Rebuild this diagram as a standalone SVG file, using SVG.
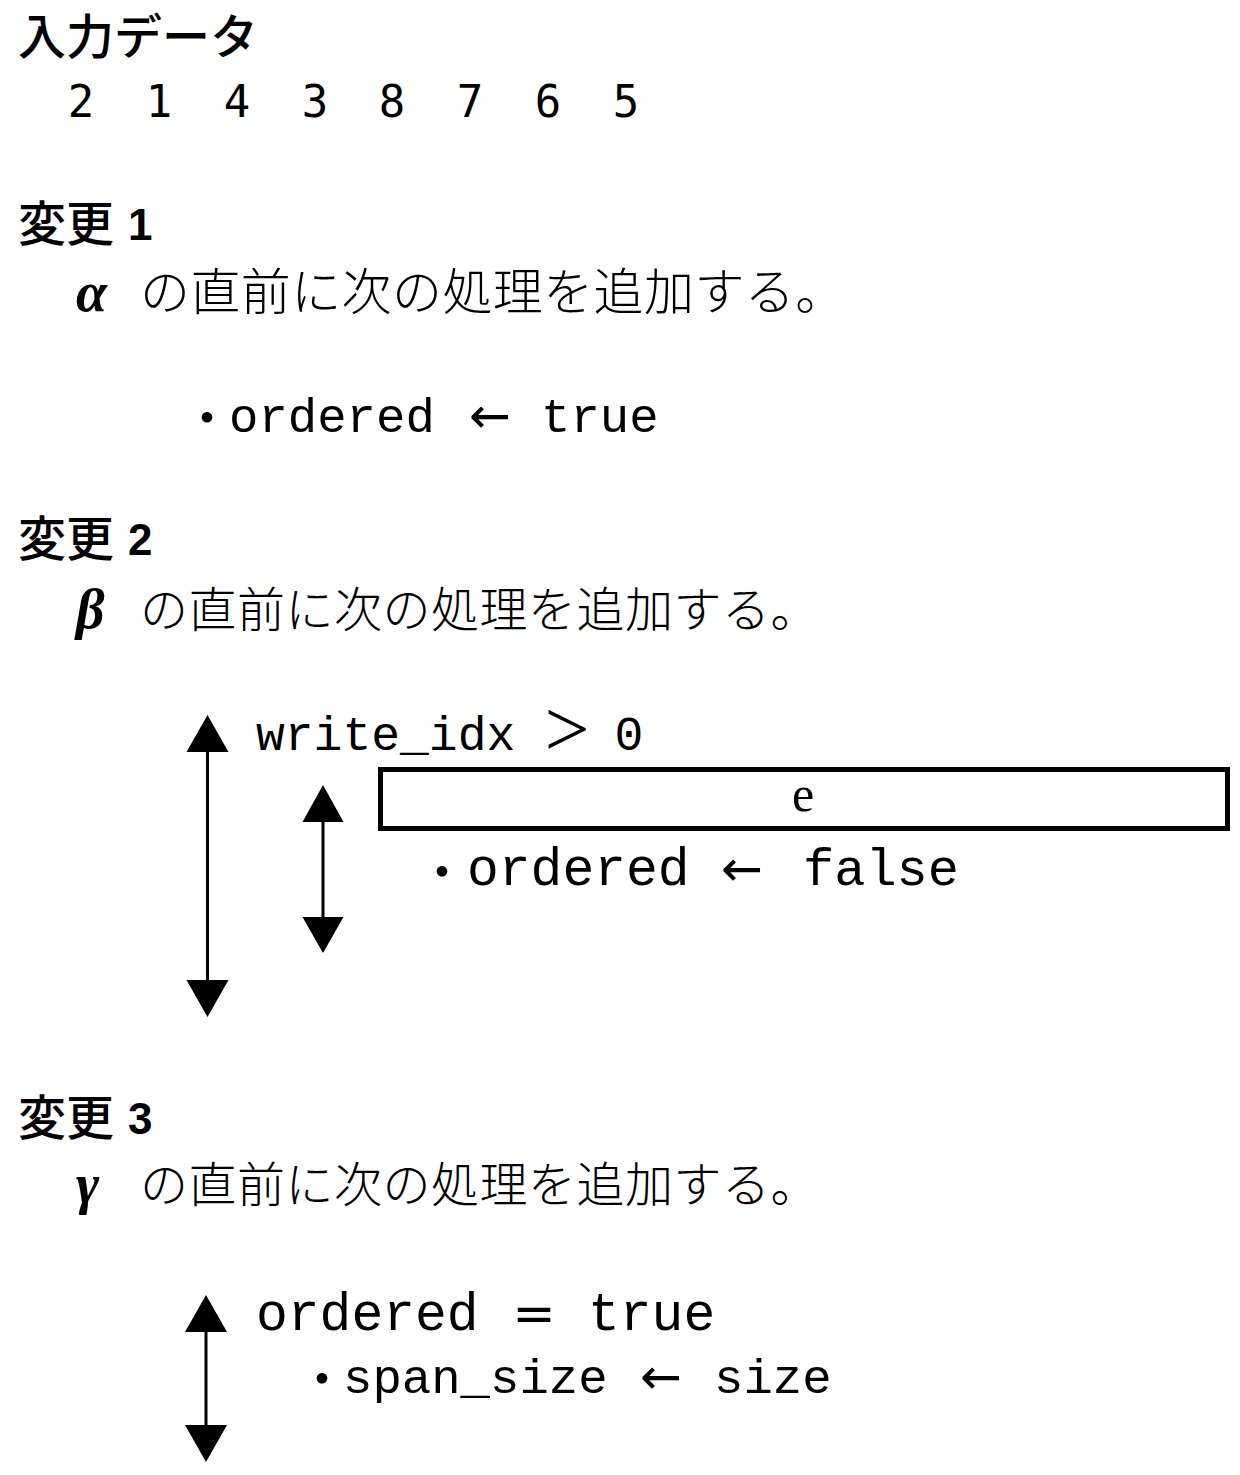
<svg xmlns="http://www.w3.org/2000/svg" width="1240" height="1475" viewBox="0 0 1240 1475">
<style>
.h{font-family:"Noto Sans CJK JP","Liberation Sans",sans-serif;font-weight:500;font-size:48px;fill:#000}
.hd{font-family:"Liberation Sans","Noto Sans CJK JP",sans-serif;font-weight:700;font-size:44px;fill:#000}
.num{font-family:"DejaVu Sans Mono","Liberation Mono",monospace;font-size:44px;fill:#000}
.jp{font-family:"Noto Sans CJK JP",sans-serif;font-weight:300;fill:#000}
.gr{font-family:"Liberation Serif","DejaVu Serif",serif;font-weight:700;font-style:italic;font-size:56px;fill:#000}
.code{font-family:"Liberation Mono","DejaVu Sans Mono",monospace;fill:#000}
.sym{font-family:"DejaVu Sans",sans-serif;fill:#000}
.dot{font-family:"Noto Sans CJK JP",sans-serif;font-size:50px;fill:#000}
.arr{stroke:#000;stroke-width:3;fill:none}
.head{fill:#000}
.box{fill:#fff;stroke:#000;stroke-width:5}
</style>

<g id="input-data">
  <text class="h" x="18" y="54">入力データ</text>
  <g class="num" text-anchor="middle">
    <text x="81" y="117">2</text>
    <text x="159" y="117">1</text>
    <text x="237" y="117">4</text>
    <text x="315" y="117">3</text>
    <text x="392" y="117">8</text>
    <text x="470" y="117">7</text>
    <text x="548" y="117">6</text>
    <text x="626" y="117">5</text>
  </g>
</g>

<g id="change1">
  <text class="h" x="18" y="241">変更</text>
  <text class="hd" x="128" y="240">1</text>
  <text class="gr" x="76" y="311">α</text>
  <text class="jp" x="140" y="310" font-size="50" letter-spacing="0.4">の直前に次の処理を追加する。</text>
  <text class="dot" x="207" y="436" text-anchor="middle">・</text>
  <text class="code" x="229" y="432" font-size="49">ordered</text>
  <text class="sym" x="490" y="433" font-size="50" text-anchor="middle">←</text>
  <text class="code" x="541" y="432" font-size="49">true</text>
</g>

<g id="change2">
  <text class="h" x="18" y="556">変更</text>
  <text class="hd" x="128" y="555">2</text>
  <text class="gr" x="76" y="628">β</text>
  <text class="jp" x="140" y="627" font-size="48" letter-spacing="0.5">の直前に次の処理を追加する。</text>
</g>

<g id="cond-write-idx">
  <text class="code" x="256" y="750" font-size="48">write_idx</text>
  <text x="567" y="756" font-family="Liberation Serif,serif" font-size="80" text-anchor="middle">&gt;</text>
  <text class="code" x="629" y="750" font-size="48" text-anchor="middle">0</text>
</g>

<g id="box-e">
  <rect class="box" x="380.5" y="769.5" width="847" height="59"/>
  <text x="803" y="811" font-family="Liberation Serif,serif" font-size="50" text-anchor="middle">e</text>
</g>

<g id="assign-false">
  <text class="dot" x="442" y="890" text-anchor="middle">・</text>
  <text class="code" x="467" y="885" font-size="53">ordered</text>
  <text class="sym" x="742" y="886" font-size="50" text-anchor="middle">←</text>
  <text class="code" x="803" y="885" font-size="52">false</text>
</g>

<g id="change3">
  <text class="h" x="18" y="1135">変更</text>
  <text class="hd" x="128" y="1134">3</text>
  <text class="gr" x="76" y="1203">γ</text>
  <text class="jp" x="140" y="1202" font-size="48" letter-spacing="0.5">の直前に次の処理を追加する。</text>
</g>

<g id="cond-ordered">
  <text class="code" x="256" y="1330" font-size="53">ordered</text>
  <text class="sym" x="534" y="1331" font-size="52" text-anchor="middle">=</text>
  <text class="code" x="588" y="1330" font-size="53">true</text>
</g>

<g id="assign-span">
  <text class="dot" x="322" y="1397" text-anchor="middle">・</text>
  <text class="code" x="343" y="1393" font-size="49">span_size</text>
  <text class="sym" x="661" y="1394" font-size="50" text-anchor="middle">←</text>
  <text class="code" x="714" y="1393" font-size="49">size</text>
</g>

<g id="connectors">
  <line class="arr" x1="207.5" y1="748" x2="207.5" y2="984"/>
  <polygon class="head" points="207.5,715 186.5,752 228.5,752"/>
  <polygon class="head" points="207.5,1017 186.5,980 228.5,980"/>
  <line class="arr" x1="323" y1="818" x2="323" y2="920"/>
  <polygon class="head" points="323,785 302.5,822 343.5,822"/>
  <polygon class="head" points="323,953 302.5,917 343.5,917"/>
  <line class="arr" x1="206" y1="1328" x2="206" y2="1429"/>
  <polygon class="head" points="206,1295 185,1332 227,1332"/>
  <polygon class="head" points="206,1462 185,1425 227,1425"/>
</g>
</svg>
